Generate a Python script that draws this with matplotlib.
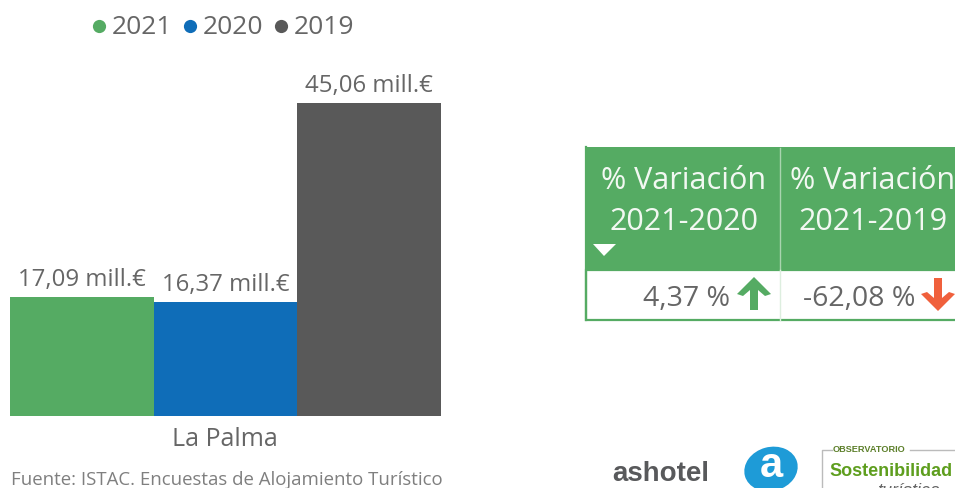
from matplotlib import pyplot as plt
from matplotlib.patches import Rectangle, Polygon, Ellipse

WIDTH, HEIGHT = 955, 488
GREEN = "#55AB63"
BLUE = "#0F6DB8"
GRAY = "#595959"
TEXT = "#666666"

years = ["2021", "2020", "2019"]
values = [17.09, 16.37, 45.06]
value_labels = ["17,09 mill.€", "16,37 mill.€", "45,06 mill.€"]
bar_colors = [GREEN, BLUE, GRAY]
category = "La Palma"
source = "Fuente: ISTAC. Encuestas de Alojamiento Turístico"
table_headers = ["% Variación\n2021-2020", "% Variación\n2021-2019"]
table_values = ["4,37 %", "-62,08 %"]

def DrawArrow(ax, x, y, color, up=True):
    # x,y = tip of the arrow, in pixels
    s = 1 if up else -1
    pts = [(x, y), (x + 17, y + s * 17), (x + 11, y + s * 19), (x + 4, y + s * 13),
           (x + 4, y + s * 33), (x - 4, y + s * 33), (x - 4, y + s * 13),
           (x - 11, y + s * 19), (x - 17, y + s * 17)]
    ax.add_patch(Polygon(pts, closed=True, facecolor=color, edgecolor="none", zorder=5))

def main():
    plt.rcParams["font.family"] = ["Open Sans", "DejaVu Sans"]
    fig = plt.figure(figsize=(WIDTH / 100, HEIGHT / 100), dpi=100)

    # overlay in pixel coordinates for table, legend, logos
    over = fig.add_axes([0, 0, 1, 1])
    over.set_xlim(0, WIDTH)
    over.set_ylim(HEIGHT, 0)
    over.axis("off")

    # bars
    ax = fig.add_axes([10 / WIDTH, (HEIGHT - 416) / HEIGHT, 431 / WIDTH, 313 / HEIGHT])
    xs = range(len(values))
    bars = ax.bar(xs, values, width=1.0, color=bar_colors)
    ax.set_xlim(-0.5, 2.5)
    ax.set_ylim(0, 45.06)
    ax.axis("off")
    for b, lab in zip(bars, value_labels):
        ax.annotate(lab, (b.get_x() + b.get_width() / 2, b.get_height()),
                    xytext=(0, 3.5), textcoords="offset points", ha="center", va="bottom",
                    fontsize=17.3, color=TEXT, annotation_clip=False)

    over.text(225, 440, category, ha="center", va="center", fontsize=18, color=TEXT)
    over.text(11, 480, source, ha="left", va="center", fontsize=13.4, color="#7F7F7F")

    # legend
    for year, color, dot_x, text_x in zip(years, bar_colors, [99, 190, 281], [112, 203, 294]):
        over.plot([dot_x], [26], "o", color=color, markersize=9.5, markeredgewidth=0)
        over.text(text_x, 28, year, ha="left", va="center", fontsize=19, color=TEXT)

    # table
    over.add_patch(Rectangle((586, 147), 380, 123, facecolor=GREEN, edgecolor="none"))
    over.add_patch(Rectangle((586, 270), 380, 50, facecolor="white", edgecolor=GREEN, linewidth=1.6))
    over.plot([586, 586], [147, 320], color=GREEN, linewidth=1.6)
    over.plot([780, 780], [148, 270], color="#A9D4AF", linewidth=1)
    over.plot([780, 780], [270, 320], color="#DDEEDF", linewidth=1)
    for head, cx in zip(table_headers, [684, 873]):
        over.text(cx, 201.5, head, ha="center", va="center", fontsize=22, color="#F2F8F2", linespacing=1.5)
    over.add_patch(Polygon([(593, 244), (616, 244), (604, 256)], closed=True, facecolor="white", edgecolor="none"))
    over.text(730, 299, table_values[0], ha="right", va="center", fontsize=20.5, color=TEXT)
    over.text(915, 299, table_values[1], ha="right", va="center", fontsize=20.5, color=TEXT)
    DrawArrow(over, 754, 277, GREEN, up=True)
    DrawArrow(over, 938, 311, "#F0603C", up=False)

    # logos
    over.text(612, 474, "ashotel", ha="left", va="center", fontsize=20, fontweight="bold",
              color="#58595B", family="Liberation Sans")
    over.add_patch(Ellipse((771, 469), 54, 44, angle=-15, facecolor="#1E9BD7", edgecolor="none"))
    over.text(771, 466, "a", ha="center", va="center", fontsize=30, fontweight="bold",
              color="white", family="Liberation Sans")
    over.plot([832, 822, 822], [450, 450, 488], color="#BBBBBB", linewidth=1)
    over.plot([910, 955], [450, 450], color="#BBBBBB", linewidth=1)
    over.text(833, 450, "OBSERVATORIO", ha="left", va="center", fontsize=6.6, fontweight="bold",
              color="#5C7F2A", family="Liberation Sans")
    over.text(829, 472, "Sostenibilidad", ha="left", va="center", fontsize=13, fontweight="bold",
              color="#5E9E1E", family="Liberation Sans")
    over.text(877, 492, "turística", ha="left", va="center", fontsize=13, style="italic",
              color="#666666", family="Liberation Sans", clip_on=True)

    fig.savefig("out.png", dpi=100)

if __name__ == "__main__":
    main()
